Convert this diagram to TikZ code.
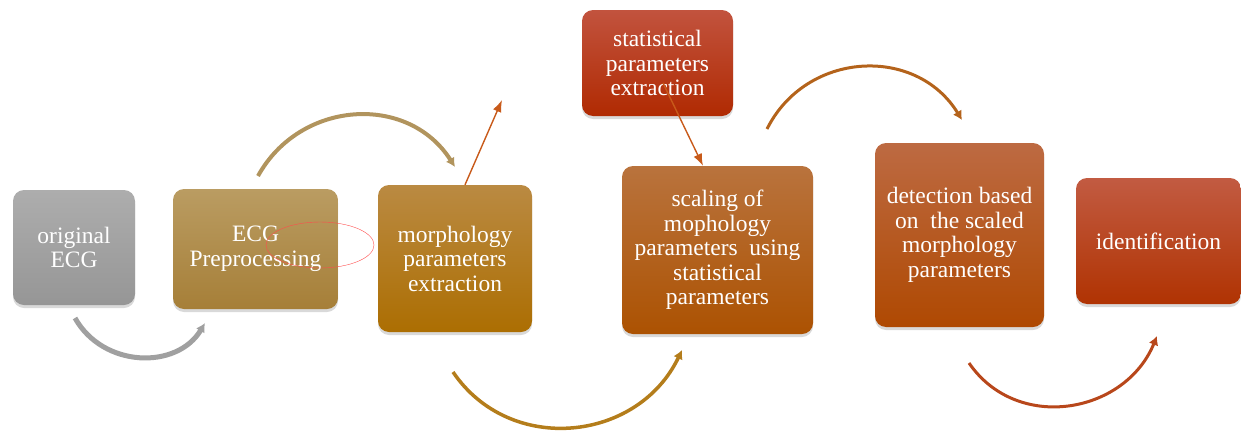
\documentclass[tikz,border=0pt]{standalone}
\usepackage{fontspec}
\setmainfont{Liberation Serif}
\usetikzlibrary{arrows.meta}
\usetikzlibrary{shadows}

\definecolor{grigioA}{HTML}{ADADAD}\definecolor{grigioB}{HTML}{969696}
\definecolor{sabbiaA}{HTML}{BA9C62}\definecolor{sabbiaB}{HTML}{A67F38}
\definecolor{ocraA}{HTML}{BA8A42}\definecolor{ocraB}{HTML}{AC6E02}
\definecolor{rossoA}{HTML}{C2533E}\definecolor{rossoB}{HTML}{B02A02}
\definecolor{aranA}{HTML}{B9733D}\definecolor{aranB}{HTML}{AC5202}
\definecolor{ruggA}{HTML}{BD6A42}\definecolor{ruggB}{HTML}{AF4902}
\definecolor{mattA}{HTML}{C25B42}\definecolor{mattB}{HTML}{B03302}
\definecolor{frecciaC}{HTML}{C85A1A}

\begin{document}
\begin{tikzpicture}[x=1pt,y=-1pt,
blocco/.style={rounded corners=11pt,inner sep=0pt,align=center,text=white,
  font=\fontsize{23.5}{24.5}\selectfont,
  drop shadow={opacity=0.3,shadow xshift=0pt,shadow yshift=-3pt}},
arco/.style={-{Latex[length=9pt,width=10pt]}},
freccia/.style={line width=1.4pt,color=frecciaC,-{Latex[length=12pt,width=9pt]}}
]
\useasboundingbox (0,0) rectangle (1241,431);
%--
\node[blocco,minimum width=122pt,minimum height=115pt,top color=grigioA,bottom color=grigioB](o) at (74,247.5){original\\ECG};
\node[blocco,minimum width=165pt,minimum height=120pt,top color=sabbiaA,bottom color=sabbiaB](p) at (255.5,249){ECG\\Preprocessing};
\node[blocco,minimum width=154pt,minimum height=147pt,top color=ocraA,bottom color=ocraB](m) at (455,258.5){morphology\\parameters\\extraction};
\node[blocco,minimum width=151pt,minimum height=106pt,top color=rossoA,bottom color=rossoB](s) at (657.5,63){statistical\\parameters\\extraction};
\node[blocco,minimum width=191pt,minimum height=168pt,top color=aranA,bottom color=aranB](sc) at (717.5,250){scaling of\\mophology\\parameters~ using\\statistical\\parameters};
\node[blocco,minimum width=169pt,minimum height=184pt,top color=ruggA,bottom color=ruggB](d) at (959.5,235){detection based\\on~ the scaled\\morphology\\parameters};
\node[blocco,minimum width=165pt,minimum height=126pt,top color=mattA,bottom color=mattB](id) at (1158.5,241){identification};
%--
\draw[draw=red!70!white,line width=0.4pt] (320,245) ellipse (54 and 23);
%--
\coordinate (a1) at (75,318); \coordinate (a2) at (205,323);
\draw[arco,line width=5pt,color=grigioB!90!white] (a1) .. controls (103,368) and (177,370) .. (a2);
%--
\coordinate (b1) at (258,176); \coordinate (b2) at (455,167);
\draw[arco,line width=4pt,color=sabbiaA!95!black] (b1) .. controls (300,100) and (408,93) .. (b2);
%--
\coordinate (c1) at (502,100);
\draw[freccia] ([xshift=10pt]m.north) -- (c1);
%--
\coordinate (d1) at (453,372); \coordinate (d2) at (682,350);
\draw[arco,line width=3.5pt,color=ocraB!90!white] (d1) .. controls (510,456) and (638,442) .. (d2);
%--
\coordinate (e1) at (663,83);
\draw[freccia] (e1) -- ([xshift=-14.5pt]sc.north);
%--
\coordinate (f1) at (767,129); \coordinate (f2) at (962,120);
\draw[arco,line width=3pt,color=aranB!90!white] (f1) .. controls (806,51) and (916,45) .. (f2);
%--
\coordinate (g1) at (969,363); \coordinate (g2) at (1157,336);
\draw[arco,line width=3pt,color=mattB!90!white] (g1) .. controls (1017,433) and (1125,414) .. (g2);
\end{tikzpicture}
\end{document}
